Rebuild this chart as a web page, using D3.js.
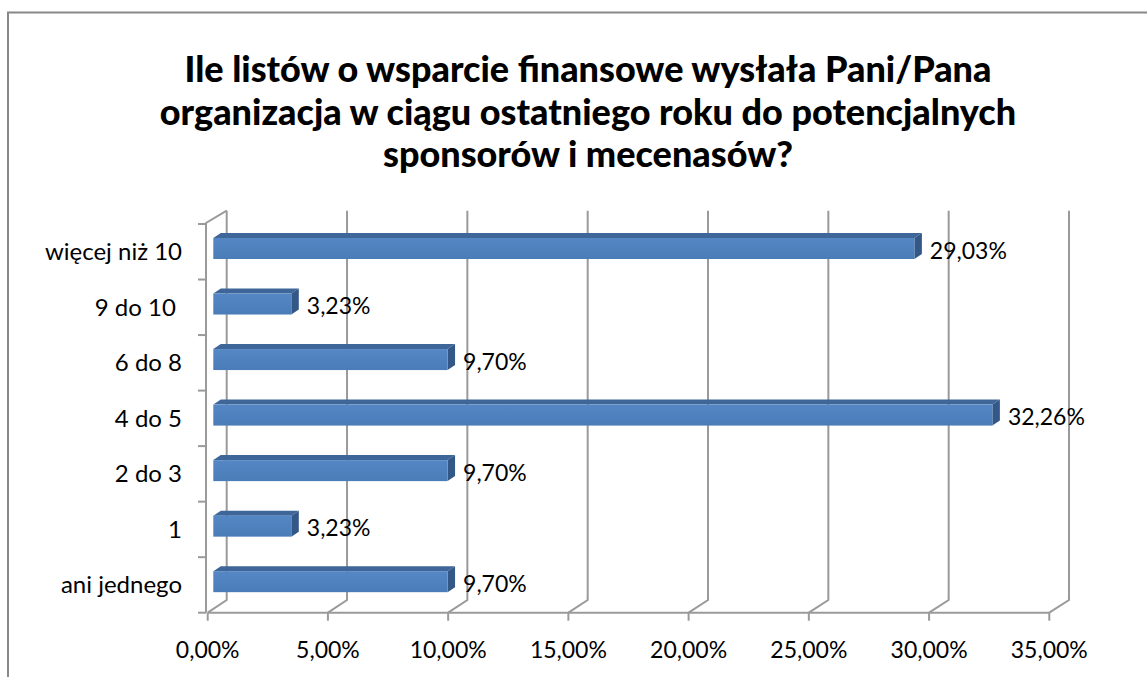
<!DOCTYPE html>
<html><head><meta charset="utf-8">
<script src="https://cdn.jsdelivr.net/npm/d3@7"></script>
<style>body{margin:0;background:#fff}svg{display:block}text{font-family:Lato,"Open Sans",sans-serif}</style>
</head><body>
<script>
const titleLines = ["Ile listów o wsparcie finansowe wysłała Pani/Pana","organizacja w ciągu ostatniego roku do potencjalnych","sponsorów i mecenasów?"];
const categories = ["więcej niż 10","9 do 10 ","6 do 8","4 do 5","2 do 3","1","ani jednego"];
const values = [29.03,3.23,9.70,32.26,9.70,3.23,9.70];
const labels = ["29,03%","3,23%","9,70%","32,26%","9,70%","3,23%","9,70%"];
const ticks = [0,5,10,15,20,25,30,35];
const tickLabels = ["0,00%","5,00%","10,00%","15,00%","20,00%","25,00%","30,00%","35,00%"];

const W=1147,H=677;
const svg=d3.select("body").append("svg").attr("width",W).attr("height",H);
svg.append("path").attr("d","M8,680V12.5H1150").attr("fill","none").attr("stroke","#888").attr("stroke-width",2);

const front={y0:612.7}, back={y0:600, top:210.7};
const xFront=d3.scaleLinear().domain([0,35]).range([207.7,1049.3]);
const xBack=d3.scaleLinear().domain([0,35]).range([226.7,1069]);
const xBar=d3.scaleLinear().domain([0,35]).range([213.3,213.3+35*24.15]);
const y=d3.scaleBand().domain(categories).range([224,612.7]);
const grid="#9a9a9a";

const g=svg.append("g");
ticks.forEach(t=>{
  g.append("path").attr("d",`M${xBack(t)},${back.top}V${back.y0}L${xFront(t)},${front.y0}`)
   .attr("fill","none").attr("stroke",grid).attr("stroke-width",2);
  g.append("line").attr("x1",xFront(t)).attr("x2",xFront(t)).attr("y1",front.y0).attr("y2",front.y0+8).attr("stroke",grid).attr("stroke-width",2);
});
g.append("line").attr("x1",xFront(0)).attr("x2",xFront(35)).attr("y1",front.y0).attr("y2",front.y0).attr("stroke",grid).attr("stroke-width",2);
g.append("path").attr("d",`M${xBack(0)},${back.top}L206,223V${front.y0}`).attr("fill","none").attr("stroke",grid).attr("stroke-width",2);
const bounds=categories.map(c=>y(c)).concat([y.range()[1]]);
bounds.forEach(b=>g.append("line").attr("x1",198).attr("x2",206).attr("y1",b).attr("y2",b).attr("stroke",grid).attr("stroke-width",2));

const dx=7.5, dy=-5;
const defs=svg.append("defs");
const grad=defs.append("linearGradient").attr("id","fg").attr("x1",0).attr("x2",0).attr("y1",0).attr("y2",1);
grad.append("stop").attr("offset","0%").attr("stop-color","#5487C4");
grad.append("stop").attr("offset","100%").attr("stop-color","#4A7CB8");
categories.forEach((c,i)=>{
  const x0=xBar(0), x1=xBar(values[i]);
  const top=y(c)+14, bot=y(c)+35;
  g.append("path").attr("d",`M${x0},${top}L${x0+dx},${top+dy}H${x1+dx}L${x1},${top}Z`).attr("fill","#3E6699");
  g.append("path").attr("d",`M${x1},${top}L${x1+dx},${top+dy}V${bot+dy}L${x1},${bot}Z`).attr("fill","#335887");
  g.append("rect").attr("x",x0).attr("y",top).attr("width",x1-x0).attr("height",bot-top).attr("fill","url(#fg)");
  g.append("text").attr("x",x1+dx+8).attr("y",y(c)+y.bandwidth()/2-1).attr("dy","0.35em")
   .attr("font-size",23).attr("fill","#000").text(labels[i]);
  g.append("text").attr("x",182).attr("y",y(c)+y.bandwidth()/2).attr("dy","0.35em").attr("text-anchor","end")
   .style("white-space","pre").attr("font-size",24).attr("fill","#000").text(c);
});
ticks.forEach((t,i)=>{
  g.append("text").attr("x",xFront(t)).attr("y",650).attr("dy","0.35em").attr("text-anchor","middle")
   .attr("font-size",23).attr("fill","#000").text(tickLabels[i]);
});
titleLines.forEach((l,i)=>{
  svg.append("text").attr("x",588).attr("y",82+i*42.5).attr("text-anchor","middle")
   .attr("font-size",36).attr("font-weight","900").attr("fill","#000").text(l);
});
</script>
</body></html>
